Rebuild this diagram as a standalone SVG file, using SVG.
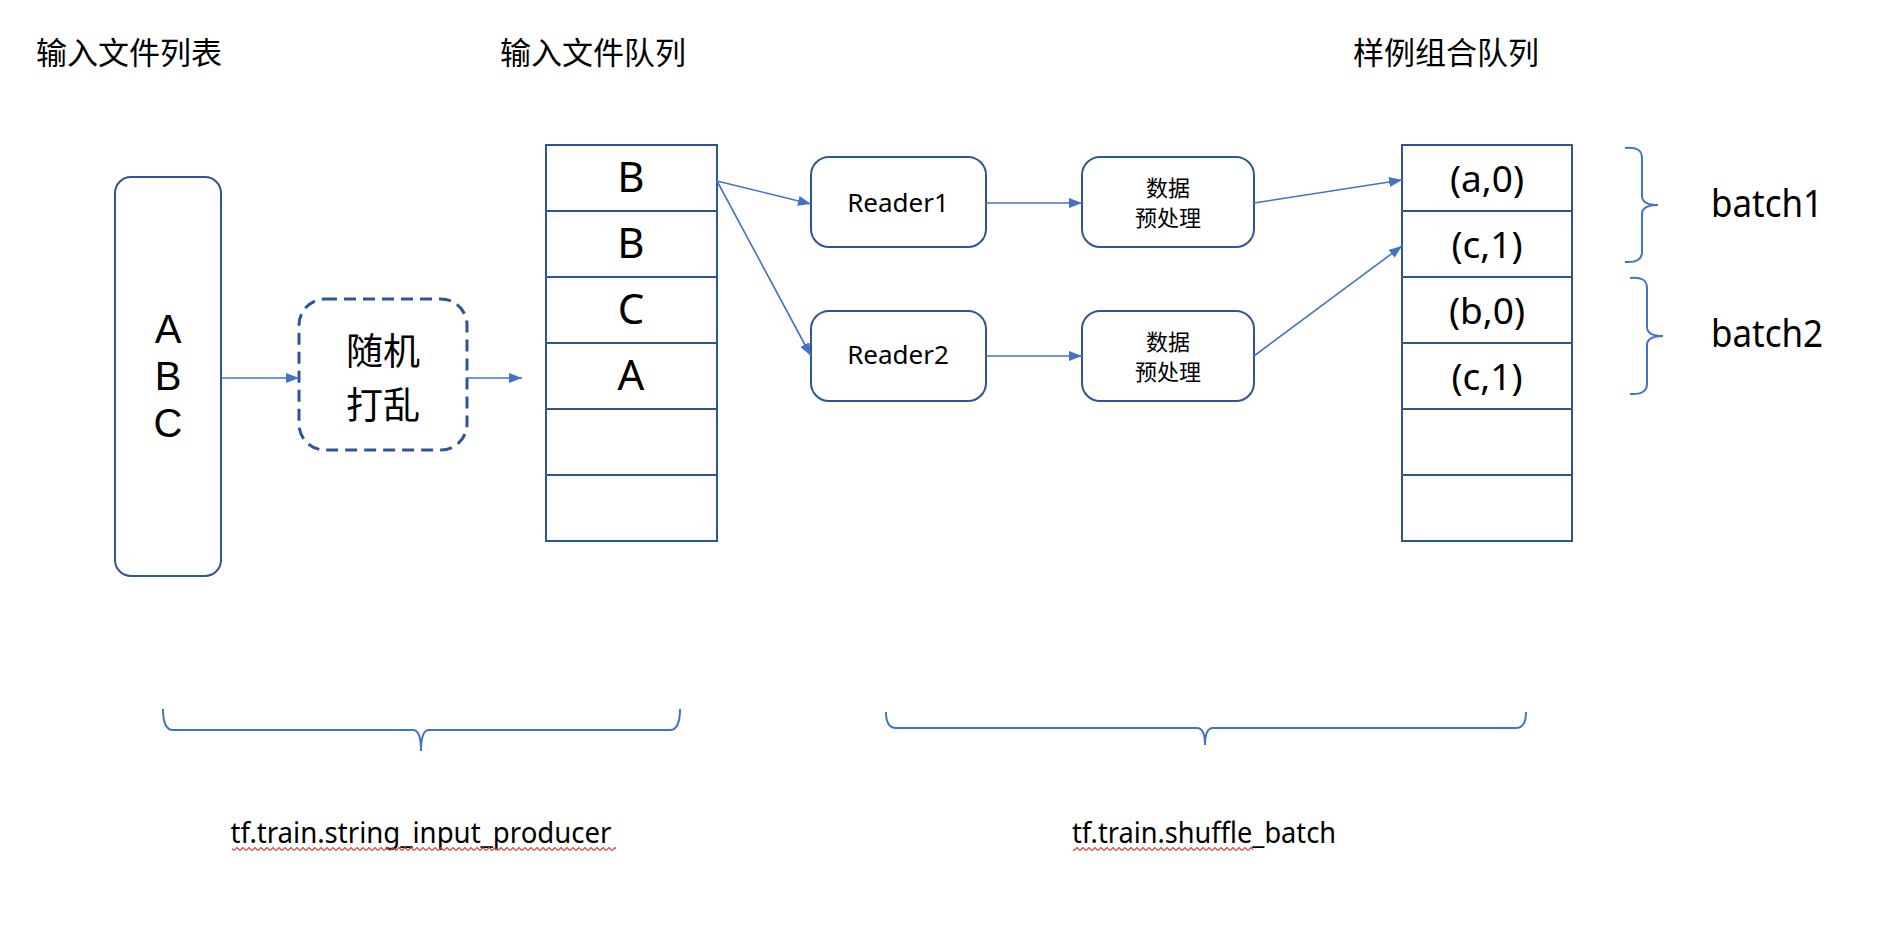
<svg xmlns="http://www.w3.org/2000/svg" width="1898" height="928" viewBox="0 0 1898 928">
<style>
.box{fill:#fff;stroke:#2F5597;stroke-width:2}
.dash{fill:#fff;stroke:#2F5597;stroke-width:3;stroke-dasharray:12 7}
.conn{stroke:#4472C4;stroke-width:1.6;fill:none;marker-end:url(#arr)}
.brace{stroke:#4472C4;stroke-width:2;fill:none}
.cjk{font-family:"Noto Sans CJK SC","Noto Sans",sans-serif;fill:#000}
.lat{font-family:"Noto Sans","Liberation Sans",sans-serif;fill:#000}
.lib{font-family:"Liberation Sans",Arial,sans-serif;fill:#000}
</style>
<defs>
<marker id="arr" markerUnits="userSpaceOnUse" markerWidth="13" markerHeight="10" refX="13" refY="5" orient="auto">
<path d="M0,0 L13,5 L0,10 z" fill="#4472C4"/>
</marker>
<pattern id="squig" patternUnits="userSpaceOnUse" x="0" y="846" width="6" height="6">
<path d="M0,4.5 L3,1.5 L6,4.5" stroke="#E03A2F" stroke-width="1.2" fill="none"/>
</pattern>
</defs>
<rect width="1898" height="928" fill="#fff"/>

<g id="titles">
<text class="cjk" x="36" y="64" font-size="31">输入文件列表</text>
<text class="cjk" x="500" y="64" font-size="31">输入文件队列</text>
<text class="cjk" x="1353" y="64" font-size="31">样例组合队列</text>
</g>

<g id="file-list">
<rect class="box" x="115" y="177" width="106" height="399" rx="16"/>
<text class="lib" x="168" y="343" font-size="40" text-anchor="middle">A</text>
<text class="lib" x="168" y="390" font-size="40" text-anchor="middle">B</text>
<text class="lib" x="168" y="437" font-size="40" text-anchor="middle">C</text>
</g>

<g id="shuffle">
<rect class="dash" x="299" y="299" width="168" height="151" rx="26"/>
<text class="cjk" x="383" y="365" font-size="37" text-anchor="middle">随机</text>
<text class="cjk" x="383" y="419" font-size="37" text-anchor="middle">打乱</text>
</g>

<g id="file-queue">
<rect class="box" x="546" y="145" width="171" height="396"/>
<line class="box" x1="546" y1="211" x2="717" y2="211"/>
<line class="box" x1="546" y1="277" x2="717" y2="277"/>
<line class="box" x1="546" y1="343" x2="717" y2="343"/>
<line class="box" x1="546" y1="409" x2="717" y2="409"/>
<line class="box" x1="546" y1="475" x2="717" y2="475"/>
<text class="lat" x="631" y="192" font-size="42" text-anchor="middle">B</text>
<text class="lat" x="631" y="258" font-size="42" text-anchor="middle">B</text>
<text class="lat" x="631" y="324" font-size="42" text-anchor="middle">C</text>
<text class="lat" x="631" y="390" font-size="42" text-anchor="middle">A</text>
</g>

<g id="reader1">
<rect class="box" x="811" y="157" width="175" height="90" rx="18"/>
<text class="lat" x="898" y="212" font-size="26" text-anchor="middle">Reader1</text>
</g>
<g id="reader2">
<rect class="box" x="811" y="311" width="175" height="90" rx="18"/>
<text class="lat" x="898" y="364" font-size="26" text-anchor="middle">Reader2</text>
</g>

<g id="preprocess1">
<rect class="box" x="1082" y="157" width="172" height="90" rx="18"/>
<text class="cjk" x="1168" y="196" font-size="22" text-anchor="middle">数据</text>
<text class="cjk" x="1168" y="226" font-size="22" text-anchor="middle">预处理</text>
</g>
<g id="preprocess2">
<rect class="box" x="1082" y="311" width="172" height="90" rx="18"/>
<text class="cjk" x="1168" y="350" font-size="22" text-anchor="middle">数据</text>
<text class="cjk" x="1168" y="380" font-size="22" text-anchor="middle">预处理</text>
</g>

<g id="example-queue">
<rect class="box" x="1402" y="145" width="170" height="396"/>
<line class="box" x1="1402" y1="211" x2="1572" y2="211"/>
<line class="box" x1="1402" y1="277" x2="1572" y2="277"/>
<line class="box" x1="1402" y1="343" x2="1572" y2="343"/>
<line class="box" x1="1402" y1="409" x2="1572" y2="409"/>
<line class="box" x1="1402" y1="475" x2="1572" y2="475"/>
<text class="lat" x="1487" y="192" font-size="37" text-anchor="middle">(a,0)</text>
<text class="lat" x="1487" y="258" font-size="37" text-anchor="middle">(c,1)</text>
<text class="lat" x="1487" y="324" font-size="37" text-anchor="middle">(b,0)</text>
<text class="lat" x="1487" y="390" font-size="37" text-anchor="middle">(c,1)</text>
</g>

<g id="batch1">
<path class="brace" d="M1625,148 Q1642,146 1642,158 L1642,196 Q1642,205 1658,205 Q1642,205 1642,214 L1642,252 Q1642,263 1625,262"/>
<text class="lat" x="1711" y="217" font-size="38" textLength="112" lengthAdjust="spacingAndGlyphs">batch1</text>
</g>
<g id="batch2">
<path class="brace" d="M1630,278 Q1647,276 1647,288 L1647,327 Q1647,336 1663,336 Q1647,336 1647,345 L1647,384 Q1647,395 1630,394"/>
<text class="lat" x="1711" y="347" font-size="38" textLength="112" lengthAdjust="spacingAndGlyphs">batch2</text>
</g>

<g id="producer-label">
<path class="brace" d="M163,709 Q163,730 173,730 L413,730 Q421,730 421,751 Q421,730 429,730 L670,730 Q680,730 680,709"/>
<text class="lat" x="421" y="843" font-size="29" text-anchor="middle" textLength="381" lengthAdjust="spacingAndGlyphs">tf.train.string_input_producer</text>
<rect x="232" y="846" width="384" height="6" fill="url(#squig)"/>
</g>

<g id="shuffle-batch-label">
<path class="brace" d="M886,712 Q886,728 896,728 L1197,728 Q1205,728 1205,745 Q1205,728 1213,728 L1516,728 Q1526,728 1526,712"/>
<text class="lat" x="1204" y="843" font-size="29" text-anchor="middle" textLength="264" lengthAdjust="spacingAndGlyphs">tf.train.shuffle_batch</text>
<rect x="1073" y="846" width="180" height="6" fill="url(#squig)"/>
</g>

<g id="connectors">
<line class="conn" x1="221" y1="378" x2="299" y2="378"/>
<line class="conn" x1="467" y1="378" x2="522" y2="378"/>
<line class="conn" x1="717" y1="181" x2="811" y2="204"/>
<line class="conn" x1="717" y1="181" x2="811" y2="356"/>
<line class="conn" x1="986" y1="203" x2="1082" y2="203"/>
<line class="conn" x1="986" y1="356" x2="1082" y2="356"/>
<line class="conn" x1="1254" y1="203" x2="1402" y2="180"/>
<line class="conn" x1="1254" y1="356" x2="1402" y2="246"/>
</g>
</svg>
